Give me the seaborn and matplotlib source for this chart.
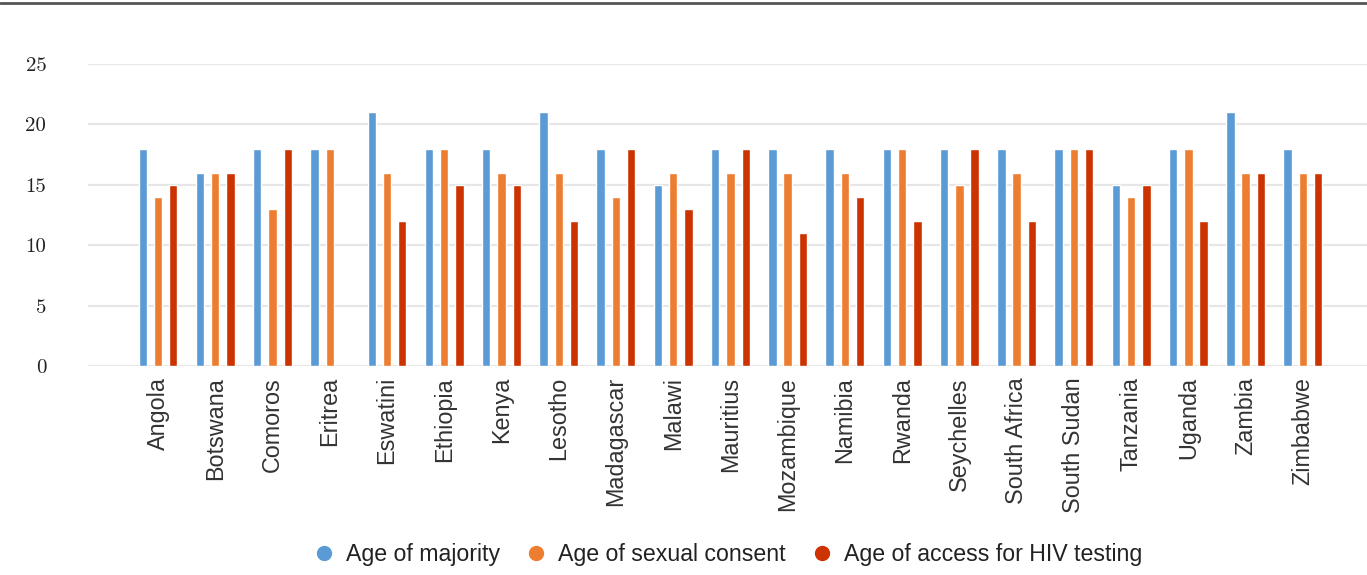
import numpy as np
import pandas as pd
import matplotlib
matplotlib.use("Agg")
import matplotlib.pyplot as plt
from matplotlib.lines import Line2D
import seaborn as sns

countries = ["Angola", "Botswana", "Comoros", "Eritrea", "Eswatini", "Ethiopia", "Kenya",
             "Lesotho", "Madagascar", "Malawi", "Mauritius", "Mozambique", "Namibia",
             "Rwanda", "Seychelles", "South Africa", "South Sudan", "Tanzania", "Uganda",
             "Zambia", "Zimbabwe"]
age_majority = [18, 16, 18, 18, 21, 18, 18, 21, 18, 15, 18, 18, 18, 18, 18, 18, 18, 15, 18, 21, 18]
age_consent = [14, 16, 13, 18, 16, 18, 16, 16, 14, 16, 16, 16, 16, 18, 15, 16, 18, 14, 18, 16, 16]
age_hiv = [15, 16, 18, np.nan, 12, 15, 15, 12, 18, 13, 18, 11, 14, 12, 18, 12, 18, 15, 12, 16, 16]
series_names = ["Age of majority", "Age of sexual consent", "Age of access for HIV testing"]
yticks = [0, 5, 10, 15, 20, 25]

colors = ["#5B9BD5", "#ED7D31", "#CC3300"]

df = pd.DataFrame({
    "country": countries * 3,
    "series": [series_names[0]] * len(countries) + [series_names[1]] * len(countries) + [series_names[2]] * len(countries),
    "value": age_majority + age_consent + age_hiv,
})

sns.set_theme(style="white")
fig = plt.figure(figsize=(13.67, 5.75), dpi=100)
ax = fig.add_axes([88 / 1367, 1 - 366 / 575, 1 - 88 / 1367, (366 - 64) / 575])

sns.barplot(data=df, x="country", y="value", hue="series", hue_order=series_names,
            palette=colors, width=0.8, gap=0.45, ax=ax, legend=False, saturation=1,
            order=countries)

ax.set_ylim(0, 25)
ax.set_xlim(-1.223, 21.12)
ax.set_yticks(yticks)
ax.set_yticklabels([str(t) for t in yticks], fontfamily="cmr10", fontsize=15, color="#222222")
ax.grid(axis="y", color="#e6e6e6", linewidth=1.6)
ax.set_axisbelow(True)
for s in ax.spines.values():
    s.set_visible(False)
ax.tick_params(axis="y", length=0, pad=30)
ax.tick_params(axis="x", length=0, pad=8)
ax.set_xlabel("")
ax.set_ylabel("")
for lab in ax.get_xticklabels():
    lab.set_rotation(90)
    lab.set_fontfamily("Liberation Sans")
    lab.set_fontsize(16.8)
    lab.set_color("#333333")
    lab.set_ha("center")
    lab.set_va("top")

handles = [Line2D([], [], marker="o", linestyle="", markersize=10, markerfacecolor=c,
                  markeredgecolor=c) for c in colors]
fig.legend(handles, series_names, loc="center", bbox_to_anchor=(0.532, 1 - 555 / 575),
           ncol=3, frameon=False, prop={"family": "Liberation Sans", "size": 16.7},
           handletextpad=0.43, columnspacing=1.08, handlelength=1.0, labelcolor="#222222")

fig.add_artist(Line2D([0, 1], [1 - 3 / 575, 1 - 3 / 575], transform=fig.transFigure,
                      color="#555555", linewidth=2))

fig.savefig("out.png", dpi=100)
